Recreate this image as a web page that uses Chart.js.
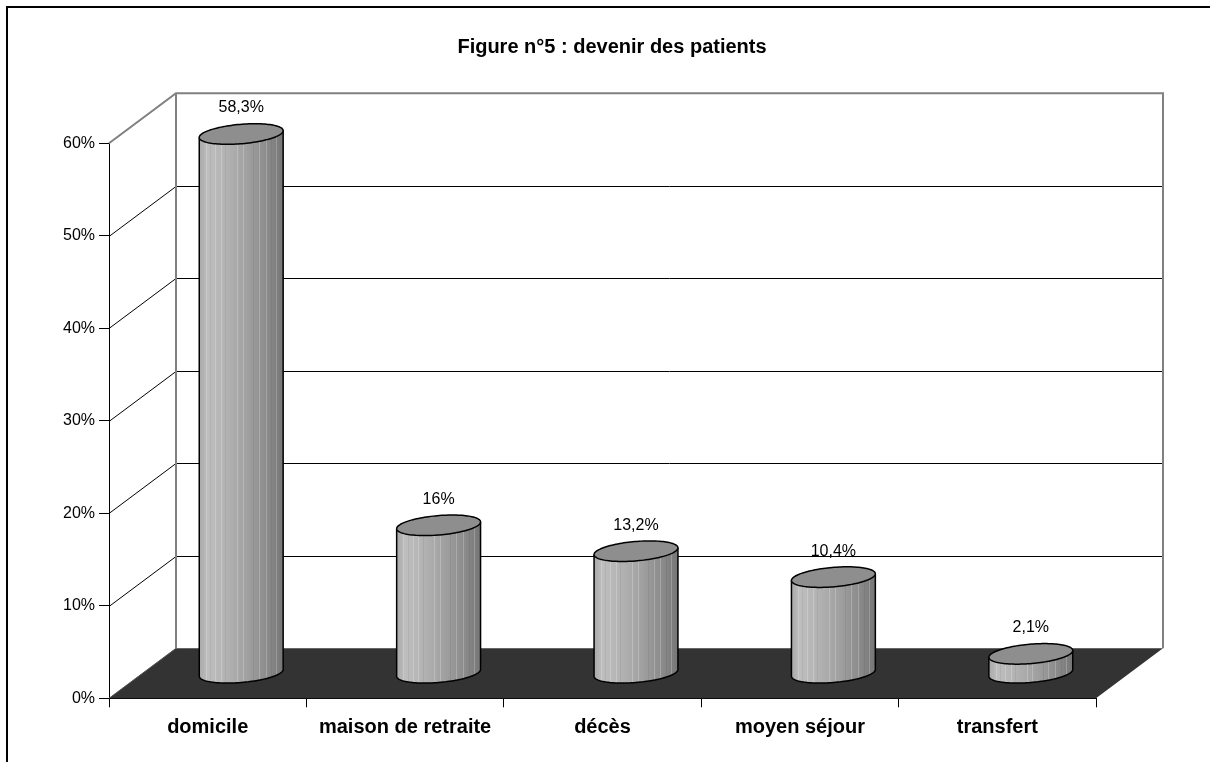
<!DOCTYPE html>
<html lang="fr">
<head>
<meta charset="utf-8">
<title>devenir des patients</title>
<script src="https://cdn.jsdelivr.net/npm/chart.js@4/dist/chart.umd.min.js"></script>
<style>
  html, body { margin: 0; padding: 0; background: #ffffff; }
  #wrap { position: relative; width: 1210px; height: 762px; }
  canvas { display: block; }
</style>
</head>
<body>
<div id="wrap"><canvas id="chart" width="1210" height="762"></canvas></div>
<script>
// Patient outcomes (share of patients, %)
const categories = ['domicile', 'maison de retraite', 'décès', 'moyen séjour', 'transfert'];
const shares = [58.3, 16, 13.2, 10.4, 2.1];
const valueTicks = [0, 10, 20, 30, 40, 50, 60];

// Oblique projection of the depth axis (pixels from front plane to back wall)
const DEPTH_X = 67;
const DEPTH_Y = -50;
// Radius of a cylinder along the depth axis, as a fraction of the full depth
const DEPTH_RADIUS = 0.206;

const FONT = "'Liberation Sans', Arial, 'DejaVu Sans', sans-serif";

function formatPercent(v) {
  return String(v).replace('.', ',') + '%';
}

// Floor, side wall and back wall with their gridlines
const wallsPlugin = {
  id: 'walls',
  beforeDatasetsDraw(chart) {
    const ctx = chart.ctx;
    const area = chart.chartArea;
    const ys = chart.scales.y;
    const y0 = ys.getPixelForValue(0);
    const yMax = ys.getPixelForValue(ys.max);
    const L = area.left, R = area.right;

    ctx.save();
    // floor
    ctx.fillStyle = '#333333';
    ctx.beginPath();
    ctx.moveTo(L, y0);
    ctx.lineTo(R, y0);
    ctx.lineTo(R + DEPTH_X, y0 + DEPTH_Y);
    ctx.lineTo(L + DEPTH_X, y0 + DEPTH_Y);
    ctx.closePath();
    ctx.fill();
    ctx.strokeStyle = '#555555';
    ctx.lineWidth = 1;
    ctx.beginPath();
    ctx.moveTo(L, y0);
    ctx.lineTo(L + DEPTH_X, y0 + DEPTH_Y);
    ctx.stroke();

    // gridlines on side wall and back wall
    ctx.strokeStyle = '#000000';
    ctx.lineWidth = 1;
    valueTicks.forEach(v => {
      if (v <= ys.min || v >= ys.max) return;
      const yv = Math.round(ys.getPixelForValue(v)) + 0.5;
      ctx.beginPath();
      ctx.moveTo(L, yv);
      ctx.lineTo(L + DEPTH_X, yv + DEPTH_Y);
      ctx.lineTo(R + DEPTH_X, yv + DEPTH_Y);
      ctx.stroke();
    });

    // wall outlines
    ctx.strokeStyle = '#808080';
    ctx.lineWidth = 2;
    ctx.beginPath();
    ctx.moveTo(L, yMax);
    ctx.lineTo(L + DEPTH_X, yMax + DEPTH_Y);
    ctx.lineTo(R + DEPTH_X, yMax + DEPTH_Y);
    ctx.lineTo(R + DEPTH_X, y0 + DEPTH_Y);
    ctx.moveTo(L + DEPTH_X, yMax + DEPTH_Y);
    ctx.lineTo(L + DEPTH_X, y0 + DEPTH_Y);
    ctx.stroke();
    ctx.restore();
  }
};

// Cylinders standing on the floor, drawn from the bar elements
const cylinderPlugin = {
  id: 'cylinders',
  afterDatasetsDraw(chart) {
    const ctx = chart.ctx;
    const meta = chart.getDatasetMeta(0);
    const ds = chart.data.datasets[0];

    meta.data.forEach((bar, i) => {
      const p = bar.getProps(['x', 'y', 'base', 'width'], true);
      const cx = p.x + DEPTH_X * 0.5;
      const halfW = p.width / 2;
      const rdx = DEPTH_X * DEPTH_RADIUS;
      const rdy = DEPTH_Y * DEPTH_RADIUS;
      const a = Math.sqrt(Math.max(halfW * halfW - rdx * rdx, 1));
      const topY = p.y + DEPTH_Y * 0.5;
      const baseY = p.base + DEPTH_Y * 0.5;
      const t0 = Math.atan2(rdx, a);
      const pt = (cy, t) => [cx + a * Math.cos(t) + rdx * Math.sin(t), cy + rdy * Math.sin(t)];
      const N = 60;

      const bodyPath = () => {
        ctx.beginPath();
        for (let k = 0; k <= N; k++) {
          const t = t0 + Math.PI + Math.PI * k / N;   // front arc of the base
          const q = pt(baseY, t);
          if (k === 0) ctx.moveTo(q[0], q[1]); else ctx.lineTo(q[0], q[1]);
        }
        for (let k = 0; k <= N; k++) {
          const t = t0 + Math.PI * k / N;             // back arc of the top
          const q = pt(topY, t);
          ctx.lineTo(q[0], q[1]);
        }
        ctx.closePath();
      };

      ctx.save();
      // body
      const g = ctx.createLinearGradient(cx - halfW, 0, cx + halfW, 0);
      g.addColorStop(0.00, '#a8a8a8');
      g.addColorStop(0.10, '#bebebe');
      g.addColorStop(0.30, '#b4b4b4');
      g.addColorStop(0.55, '#a2a2a2');
      g.addColorStop(0.80, '#8c8c8c');
      g.addColorStop(1.00, '#767676');
      bodyPath();
      ctx.fillStyle = g;
      ctx.fill();

      // fine vertical facets
      ctx.save();
      bodyPath();
      ctx.clip();
      ctx.lineWidth = 1;
      [0.08, 0.13, 0.19, 0.26, 0.31, 0.45, 0.52, 0.64, 0.71, 0.79, 0.86, 0.92].forEach((f, k) => {
        const x = Math.round(cx - halfW + f * 2 * halfW) + 0.5;
        ctx.strokeStyle = k % 3 === 1 ? 'rgba(0,0,0,0.06)' : 'rgba(255,255,255,0.22)';
        ctx.beginPath();
        ctx.moveTo(x, topY - 20);
        ctx.lineTo(x, baseY + 20);
        ctx.stroke();
      });
      ctx.restore();

      // outline of body
      ctx.strokeStyle = '#000000';
      ctx.lineWidth = 1.5;
      ctx.beginPath();
      for (let k = 0; k <= N; k++) {
        const t = t0 + Math.PI + Math.PI * k / N;
        const q = pt(baseY, t);
        if (k === 0) ctx.moveTo(q[0], q[1]); else ctx.lineTo(q[0], q[1]);
      }
      const tr = pt(topY, t0);
      ctx.lineTo(tr[0], tr[1]);
      const bl = pt(baseY, t0 + Math.PI);
      const tl = pt(topY, t0 + Math.PI);
      ctx.moveTo(bl[0], bl[1]);
      ctx.lineTo(tl[0], tl[1]);
      ctx.stroke();

      // top cap
      ctx.beginPath();
      for (let k = 0; k <= 2 * N; k++) {
        const t = Math.PI * k / N;
        const q = pt(topY, t);
        if (k === 0) ctx.moveTo(q[0], q[1]); else ctx.lineTo(q[0], q[1]);
      }
      ctx.closePath();
      ctx.fillStyle = '#8e8e8e';
      ctx.fill();
      ctx.stroke();

      // value label
      ctx.fillStyle = '#000000';
      ctx.font = '16px ' + FONT;
      ctx.textAlign = 'center';
      ctx.textBaseline = 'middle';
      ctx.fillText(formatPercent(ds.data[i]), cx, p.y + DEPTH_Y - 1);
      ctx.restore();
    });
  }
};

// Outer frame of the figure
const framePlugin = {
  id: 'frame',
  afterDraw(chart) {
    const ctx = chart.ctx;
    ctx.save();
    ctx.strokeStyle = '#000000';
    ctx.lineWidth = 2;
    ctx.beginPath();
    ctx.moveTo(7, chart.height);
    ctx.lineTo(7, 7);
    ctx.lineTo(chart.width, 7);
    ctx.stroke();
    ctx.restore();
  }
};

new Chart(document.getElementById('chart'), {
  type: 'bar',
  data: {
    labels: categories,
    datasets: [{
      data: shares,
      backgroundColor: 'rgba(0,0,0,0)',
      borderWidth: 0,
      categoryPercentage: 1,
      barPercentage: 0.425
    }]
  },
  options: {
    responsive: false,
    animation: false,
    devicePixelRatio: 1,
    layout: { padding: { top: 10, left: 14, right: 0, bottom: 13.7 } },
    plugins: {
      legend: { display: false },
      tooltip: { enabled: false },
      title: {
        display: true,
        text: 'Figure n°5 : devenir des patients',
        color: '#000000',
        font: { family: FONT, size: 20, weight: 'bold', lineHeight: 1.2 },
        padding: { top: 25, bottom: 84.3 }
      }
    },
    scales: {
      x: {
        grid: { display: true, drawOnChartArea: false, drawTicks: true, tickLength: 9, color: '#000000', offset: true },
        border: { display: true, color: '#000000', width: 1 },
        ticks: { color: '#000000', padding: 8, font: { family: FONT, size: 20, weight: 'bold' } },
        afterFit(scale) { scale.height = 50; }
      },
      y: {
        min: 0,
        max: 60,
        grid: { display: true, drawOnChartArea: false, drawTicks: true, tickLength: 10, color: '#000000' },
        border: { display: true, color: '#000000', width: 1 },
        ticks: {
          color: '#000000',
          padding: 4,
          font: { family: FONT, size: 16 },
          callback: (v) => v + '%'
        },
        afterBuildTicks(scale) { scale.ticks = valueTicks.map(v => ({ value: v })); },
        afterFit(scale) { scale.width = 95; }
      },
      // empty right-hand axis that reserves room for the depth of the back wall
      depth: {
        type: 'linear',
        position: 'right',
        min: 0,
        max: 60,
        grid: { display: false },
        border: { display: false },
        ticks: { display: false },
        afterFit(scale) { scale.width = 114; }
      }
    }
  },
  plugins: [wallsPlugin, cylinderPlugin, framePlugin]
});
</script>
</body>
</html>
